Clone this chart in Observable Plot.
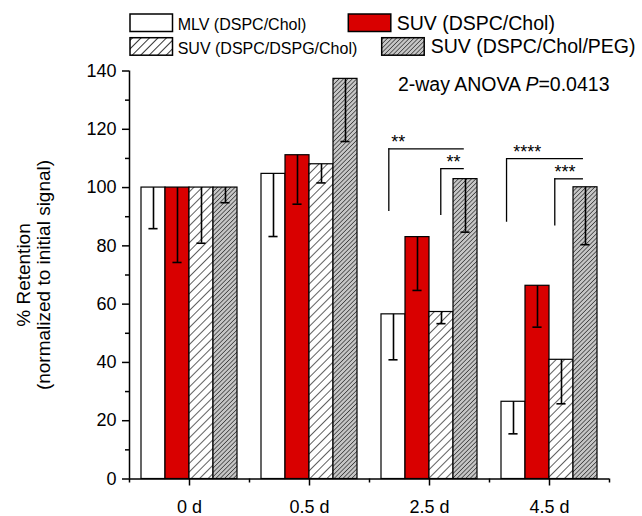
<!DOCTYPE html>
<html><head><meta charset="utf-8">
<script src="https://cdn.jsdelivr.net/npm/d3@7"></script>
<script src="https://cdn.jsdelivr.net/npm/@observablehq/plot@0.6"></script>
<style>
body{margin:0;background:#fff;font-family:"Liberation Sans",Arial,sans-serif;}
#chart{width:642px;height:516px;position:relative;background:#fff;}
svg{display:block}
</style></head><body><div id="chart"></div>
<script>
// ---- data ----
const days = ["0 d", "0.5 d", "2.5 d", "4.5 d"];
const series = ["MLV (DSPC/Chol)", "SUV (DSPC/Chol)", "SUV (DSPC/DSPG/Chol)", "SUV (DSPC/Chol/PEG)"];
const mlv = [100, 104.7, 56.5, 26.5];
const mlvErr = [14.1, 21.5, 15.6, 11.0];
const suv = [100, 111.1, 83.0, 66.3];
const suvErr = [25.7, 16.8, 18.3, 14.2];
const suvPG = [100, 108.0, 57.3, 40.9];
const suvPGErr = [19.1, 6.4, 4.0, 15.1];
const suvPEG = [100, 137.3, 102.9, 100.1];
const suvPEGErr = [5.2, 21.5, 18.2, 19.7];
const yTicks = [0, 20, 40, 60, 80, 100, 120, 140];
const yMinorTicks = [10, 30, 50, 70, 90, 110, 130];
const bracketLabels = ["**", "**", "****", "***"];
const bracketLeft = [1.661, 2.094, 2.642, 3.044];
const bracketRight = [2.29, 2.29, 3.283, 3.283];
const bracketBottom = [91.8, 90.4, 88.1, 86.8];
const bracketTop = [113.3, 106.5, 109.9, 103.0];
const starX = [1.681, 2.142, 2.698, 3.042];
const anovaParts = ["2-way ANOVA ", "P", "=0.0413"];
const anovaX = 3.5, anovaY = 135.4;
const yTitle = "% Retention\n(normalized to initial signal)";

// ---- build ----
const values = [mlv, suv, suvPG, suvPEG];
const errs = [mlvErr, suvErr, suvPGErr, suvPEGErr];
const BAR = 0.2;
const rows = [];
series.forEach((s, k) => days.forEach((d, i) => rows.push({series: s, day: d, i, k, value: values[k][i], err: errs[k][i]})));
const bx1 = r => r.i + (r.k - 2) * BAR;
const bx2 = r => r.i + (r.k - 1) * BAR;
const bxc = r => r.i + (r.k - 1.5) * BAR;
const CAP = 0.038;
const brackets = bracketLabels.map((label, j) => ({label, left: bracketLeft[j], right: bracketRight[j], bottom: bracketBottom[j], top: bracketTop[j], sx: starX[j]}));
const anovaText = anovaParts.join("");
const FONT = '"Liberation Sans", Arial, sans-serif';
const fills = ["white", "#d90000", "url(#hatchA)", "url(#hatchB)"];

function addPatterns(svgSel, suffix, wideStroke) {
  const defs = svgSel.insert("defs", ":first-child");
  const pA = defs.append("pattern").attr("id", "hatchA" + suffix).attr("patternUnits", "userSpaceOnUse")
    .attr("width", 6).attr("height", 6).attr("patternTransform", "rotate(45)");
  pA.append("rect").attr("width", 6).attr("height", 6).attr("fill", "white");
  pA.append("line").attr("x1", 0).attr("y1", 0).attr("x2", 0).attr("y2", 6).attr("stroke", "black").attr("stroke-width", wideStroke);
  const pB = defs.append("pattern").attr("id", "hatchB" + suffix).attr("patternUnits", "userSpaceOnUse")
    .attr("width", 3.1).attr("height", 3.1).attr("patternTransform", "rotate(45)");
  pB.append("rect").attr("width", 3.1).attr("height", 3.1).attr("fill", "#c6c6c6");
  pB.append("line").attr("x1", 0).attr("y1", 0).attr("x2", 0).attr("y2", 3.1).attr("stroke", "#1e1e1e").attr("stroke-width", 1.25);
}

// legend
const legendPos = [
  {x: 130, y: 14, tx: 177.7, ty: 30, fs: 16},
  {x: 348.3, y: 14, tx: 396.7, ty: 30, fs: 19.5},
  {x: 130, y: 37.7, tx: 177.7, ty: 53.5, fs: 16},
  {x: 381.7, y: 37.7, tx: 430.7, ty: 53, fs: 19.5}
];
const legend = d3.create("svg").attr("width", 642).attr("height", 58).attr("font-family", FONT);
addPatterns(legend, "L", 1.6);
series.forEach((s, k) => {
  const p = legendPos[k];
  legend.append("rect").attr("x", p.x).attr("y", p.y).attr("width", 42.5).attr("height", 17.5)
    .attr("fill", fills[k].replace(")", "L)")).attr("stroke", "black").attr("stroke-width", 1.5);
  legend.append("text").attr("x", p.tx).attr("y", p.ty).attr("font-size", p.fs).attr("fill", "black").text(s);
});
document.getElementById("chart").append(legend.node());

const chart = Plot.plot({
  width: 642, height: 458,
  marginLeft: 129, marginRight: 33, marginTop: 12.5, marginBottom: 37.5,
  style: {fontFamily: FONT, fontSize: "18px", color: "black", background: "white"},
  x: {domain: [-0.5, 3.5]},
  y: {domain: [0, 140]},
  color: {domain: series, range: fills},
  marks: [
    Plot.rectY(rows, {x1: bx1, x2: bx2, y: "value", fill: "series", stroke: "black", strokeWidth: 1.2}),
    Plot.ruleX(rows, {x: bxc, y1: d => d.value - d.err, y2: "value", stroke: "black", strokeWidth: 1.6}),
    Plot.ruleY(rows, {y: d => d.value - d.err, x1: d => bxc(d) - CAP, x2: d => bxc(d) + CAP, stroke: "black", strokeWidth: 1.6}),
    Plot.ruleX(brackets, {x: "left", y1: "bottom", y2: "top", stroke: "black", strokeWidth: 1.3}),
    Plot.ruleY(brackets, {y: "top", x1: "left", x2: "right", stroke: "black", strokeWidth: 1.3}),
    Plot.text(brackets, {x: "sx", y: "top", text: "label", textAnchor: "start", lineAnchor: "bottom", fontSize: 18, dy: -1, fill: "black"}),
    Plot.text([anovaText], {x: anovaX, y: anovaY, text: d => d, textAnchor: "end", lineAnchor: "middle", fontSize: 19.5, fill: "black"}),
    Plot.text([yTitle], {frameAnchor: "left", textAnchor: "middle", lineAnchor: "middle", rotate: -90, dx: -96, text: d => d, fontSize: 19, lineHeight: 1.05, fill: "black"}),
    Plot.ruleX([-0.5], {stroke: "black", strokeWidth: 1.5}),
    Plot.ruleY([0], {stroke: "black", strokeWidth: 1.5}),
    Plot.axisY({ticks: yTicks, tickSize: 7, tickPadding: 6, fontSize: 18, label: null, stroke: "black", strokeWidth: 1.5}),
    Plot.axisY({ticks: yMinorTicks, tickSize: 4, tickFormat: () => "", label: null, stroke: "black", strokeWidth: 1.5}),
    Plot.axisX({ticks: [0, 1, 2, 3], tickSize: 7, tickPadding: 14.5, tickFormat: i => days[i], fontSize: 18, label: null, stroke: "black", strokeWidth: 1.5}),
    Plot.axisX({ticks: [-0.5, 0.5, 1.5, 2.5, 3.5], tickSize: 4, tickFormat: () => "", label: null, stroke: "black", strokeWidth: 1.5})
  ]
});
const csel = d3.select(chart);
addPatterns(csel, "", 1.25);
csel.selectAll("text").filter(function () { return this.textContent === anovaText; }).each(function () {
  const t = d3.select(this);
  t.text(null);
  anovaParts.forEach((part, j) => {
    const ts = t.append("tspan").text(part);
    if (j === 1) ts.attr("font-style", "italic");
  });
});
document.getElementById("chart").append(chart);
</script></body></html>
